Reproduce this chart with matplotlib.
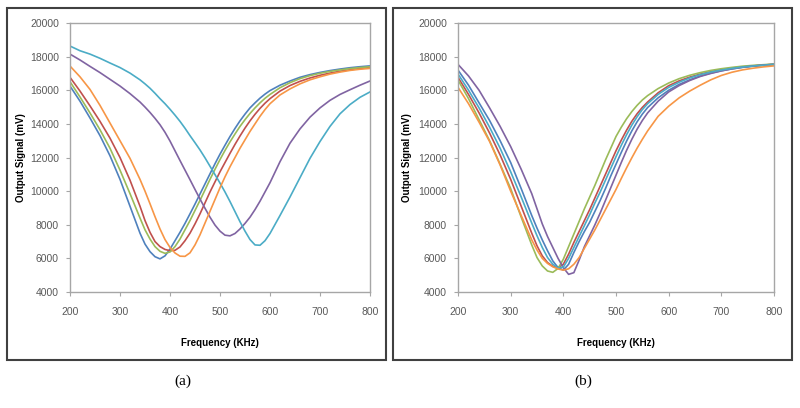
import matplotlib
matplotlib.use('Agg')
import matplotlib.pyplot as plt
from matplotlib.patches import Rectangle

# Panel (a): 10 kHz steps around the dips, 20 kHz elsewhere
freq_a = (list(range(200, 341, 20)) + list(range(350, 601, 10))
          + list(range(620, 801, 20)))
a_blue = [16250, 15350, 14350, 13300, 12100, 10700, 9100, 7500,
          6850, 6400, 6100, 5970, 6150, 6550, 7050, 7550, 8080, 8650, 9230, 9830,
          10430, 11030, 11630, 12200, 12730, 13250, 13730, 14180, 14580, 14950,
          15250, 15530, 15770, 15980,
          16300, 16550, 16770, 16930, 17060, 17170, 17260, 17340, 17400, 17450]
a_red = [16770, 15950, 15070, 14150, 13150, 12000, 10650, 9100,
         8250, 7550, 7000, 6700, 6530, 6460, 6480, 6680, 7050, 7500, 8050, 8650,
         9300, 9950, 10550, 11150, 11700, 12250, 12780, 13280, 13750, 14180,
         14570, 14920, 15230, 15500,
         15950, 16280, 16530, 16730, 16890, 17020, 17130, 17220, 17290, 17350]
a_green = [16510, 15600, 14650, 13650, 12550, 11250, 9850, 8400,
           7700, 7150, 6700, 6420, 6300, 6380, 6700, 7150, 7700, 8250, 8850, 9450,
           10070, 10700, 11300, 11880, 12420, 12930, 13400, 13850, 14250, 14620,
           14950, 15250, 15520, 15750,
           16150, 16450, 16690, 16870, 17010, 17120, 17210, 17290, 17350, 17400]
a_purple = [18150, 17800, 17420, 17050, 16650, 16250, 15800, 15300,
            15000, 14680, 14330, 13950, 13500, 12980, 12400, 11820, 11250, 10680,
            10100, 9530, 8980, 8450, 7980, 7620, 7380, 7340, 7480, 7750, 8080, 8450,
            8900, 9400, 9950, 10500,
            11750, 12850, 13700, 14400, 14950, 15400, 15750, 16030, 16300, 16550]
a_teal = [18630, 18350, 18150, 17900, 17620, 17350, 17020, 16620,
          16380, 16120, 15820, 15500, 15200, 14870, 14520, 14150, 13740, 13300,
          12880, 12450, 11980, 11480, 10980, 10480, 9950, 9380, 8780, 8180, 7620,
          7120, 6800, 6780, 7050, 7480,
          8550, 9650, 10800, 11950, 12950, 13850, 14600, 15150, 15580, 15900]
a_orange = [17440, 16800, 16050, 15100, 14050, 13000, 11950, 10700,
            10000, 9250, 8480, 7750, 7120, 6650, 6320, 6130, 6120, 6330, 6800, 7400,
            8100, 8800, 9500, 10200, 10850, 11450, 12000, 12550, 13050, 13550,
            14000, 14450, 14850, 15200,
            15720, 16080, 16380, 16620, 16800, 16960, 17080, 17180, 17250, 17300]

# Panel (b)
freq_b = (list(range(200, 341, 20)) + list(range(350, 561, 10))
          + list(range(580, 801, 20)))
b_blue = [17200, 16300, 15250, 14200, 13000, 11700, 10150, 8550,
          7800, 7100, 6450, 5850, 5450, 5300, 5650, 6350, 7000, 7600, 8150, 8800,
          9450, 10150, 10900, 11600, 12300, 12970, 13580, 14120, 14580, 14970,
          15550, 16000, 16350, 16620, 16850, 17020, 17160, 17270, 17360, 17430,
          17480, 17530]
b_red = [16770, 15750, 14650, 13450, 12150, 10700, 9100, 7500,
         6750, 6150, 5750, 5530, 5450, 5650, 6250, 6950, 7600, 8250, 8900, 9600,
         10300, 11000, 11700, 12400, 13030, 13620, 14150, 14600, 14980, 15300,
         15850, 16270, 16560, 16780, 16960, 17100, 17220, 17320, 17390, 17450,
         17500, 17540]
b_green = [16610, 15500, 14250, 13000, 11600, 10150, 8450, 6800,
           6050, 5550, 5250, 5170, 5400, 5950, 6700, 7450, 8200, 8950, 9650, 10350,
           11100, 11850, 12550, 13250, 13800, 14300, 14730, 15100, 15420, 15680,
           16100, 16430, 16690, 16890, 17050, 17180, 17280, 17360, 17430, 17480,
           17520, 17560]
b_purple = [17540, 16850, 16000, 14950, 13850, 12650, 11300, 9850,
            8950, 8050, 7300, 6650, 6000, 5450, 5050, 5150, 5900, 6700, 7350, 8000,
            8700, 9450, 10200, 10950, 11700, 12420, 13080, 13680, 14200, 14650,
            15350, 15900, 16280, 16580, 16820, 17000, 17150, 17270, 17370, 17440,
            17500, 17540]
b_teal = [16970, 16000, 14950, 13800, 12550, 11150, 9650, 8100,
          7350, 6650, 6050, 5650, 5430, 5480, 6000, 6650, 7300, 7950, 8600, 9300,
          9950, 10650, 11350, 12050, 12720, 13350, 13920, 14420, 14850, 15200,
          15750, 16170, 16480, 16730, 16930, 17080, 17200, 17300, 17380, 17440,
          17490, 17540]
b_orange = [16175, 15200, 14100, 12950, 11550, 10000, 8550, 7100,
            6500, 6000, 5700, 5500, 5370, 5300, 5380, 5650, 6050, 6600, 7150, 7700,
            8300, 8900, 9500, 10100, 10750, 11380, 11980, 12550, 13080, 13580,
            14450, 15050, 15550, 15950, 16300, 16620, 16880, 17070, 17210, 17310,
            17390, 17450]

colors = {'blue': '#4F81BD', 'red': '#C0504D', 'green': '#9BBB59',
          'purple': '#8064A2', 'teal': '#4BACC6', 'orange': '#F79646'}

W, H = 800, 408
fig = plt.figure(figsize=(8, 4.08), dpi=100)
fig.patch.set_facecolor('white')


def fbox(x0, y0, x1, y1):
    return [x0 / W, 1 - y1 / H, (x1 - x0) / W, (y1 - y0) / H]


def style(ax):
    ax.set_xlim(200, 800)
    ax.set_ylim(4000, 20000)
    ax.set_xticks(range(200, 801, 100))
    ax.set_yticks(range(4000, 20001, 2000))
    for s in ax.spines.values():
        s.set_color('#A6A6A6')
        s.set_linewidth(1.0)
    ax.tick_params(direction='out', length=3, color='#A6A6A6',
                   labelsize=7.5, labelcolor='#595959')
    ax.tick_params(axis='x', pad=8)
    ax.tick_params(axis='y', pad=5)
    for lab in ax.get_xticklabels() + ax.get_yticklabels():
        lab.set_family('Liberation Sans')
    ax.set_xlabel('Frequency (KHz)', fontsize=7, fontweight='bold',
                  family='Liberation Sans')
    ax.set_ylabel('Output Signal (mV)', fontsize=7, fontweight='bold',
                  family='Liberation Sans')
    ax.xaxis.set_label_coords(0.5, -0.171)


ax_a = fig.add_axes(fbox(70, 23, 370, 292))
for name, ys in [('blue', a_blue), ('red', a_red), ('green', a_green),
                 ('purple', a_purple), ('teal', a_teal), ('orange', a_orange)]:
    ax_a.plot(freq_a, ys, color=colors[name], lw=1.2)
style(ax_a)
ax_a.yaxis.set_label_coords(-0.147, 0.5)

ax_b = fig.add_axes(fbox(458, 23, 774, 292))
for name, ys in [('blue', b_blue), ('red', b_red), ('green', b_green),
                 ('purple', b_purple), ('teal', b_teal), ('orange', b_orange)]:
    ax_b.plot(freq_b, ys, color=colors[name], lw=1.2)
style(ax_b)
ax_b.yaxis.set_label_coords(-0.146, 0.5)

# panel frames
for x0, x1 in [(7, 386), (393, 792)]:
    b = fbox(x0, 8, x1, 360)
    fig.add_artist(Rectangle((b[0], b[1]), b[2], b[3], transform=fig.transFigure,
                             fill=False, edgecolor='#404040', lw=1.5))

fig.text(183 / W, 1 - 381 / H, '(a)', ha='center', va='center',
         fontsize=11, family='Liberation Serif')
fig.text(583 / W, 1 - 381 / H, '(b)', ha='center', va='center',
         fontsize=11, family='Liberation Serif')

fig.savefig('out.png', dpi=100, facecolor='white')
